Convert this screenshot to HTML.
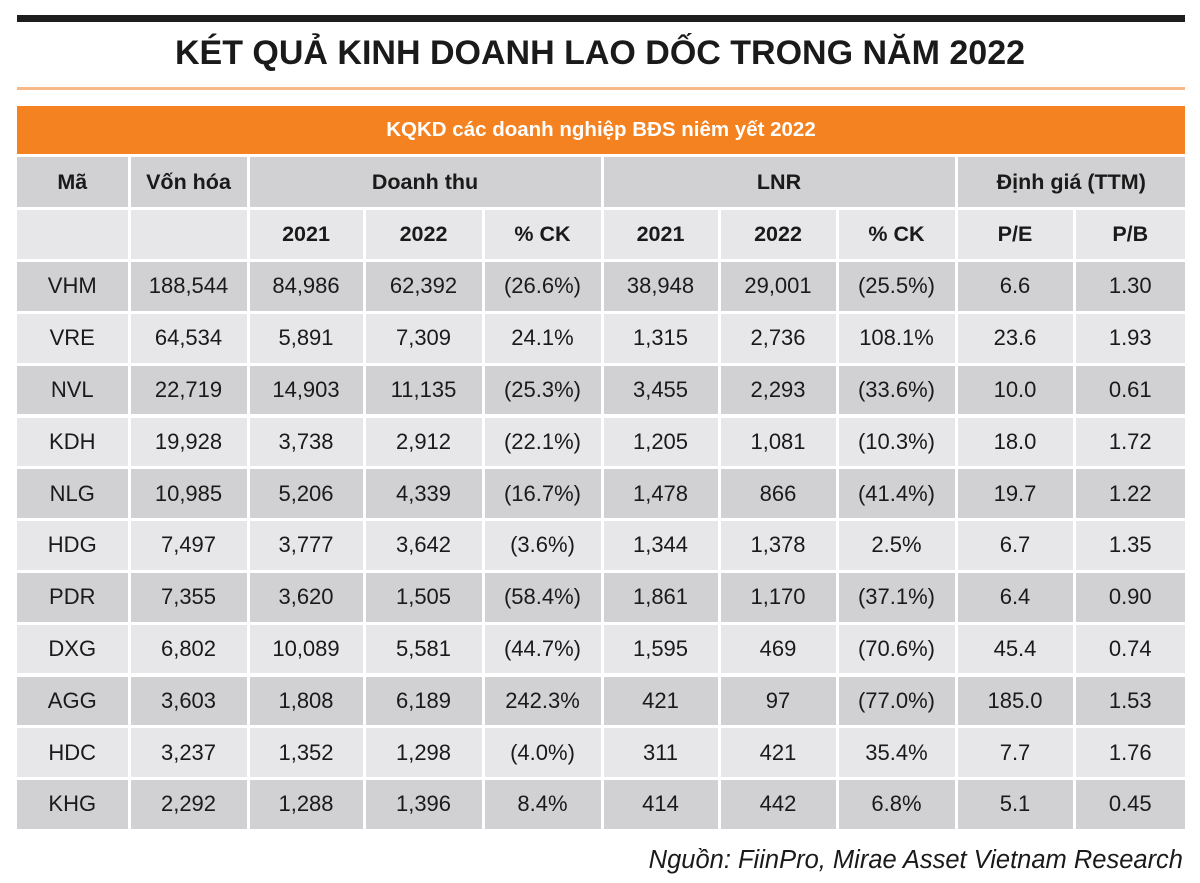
<!DOCTYPE html>
<html><head><meta charset="utf-8"><style>
body{margin:0;width:1200px;height:883px;background:#fff;position:relative;overflow:hidden;font-family:"Liberation Sans",sans-serif;color:#1a1a1a}
.a{position:absolute;box-sizing:border-box;display:flex;align-items:center;justify-content:center}
</style></head><body>
<div class="a" style="left:17px;top:15px;width:1168px;height:7px;background:#1e1e1e"></div>
<div class="a" style="left:0;top:30px;width:1200px;height:46px;font-size:34px;font-weight:bold;color:#1a1a1a">KÉT QUẢ KINH DOANH LAO DỐC TRONG NĂM 2022</div>
<div class="a" style="left:17px;top:87px;width:1168px;height:3px;background:#f6b98a"></div>
<div class="a" style="left:17px;top:106px;width:1168px;height:48px;background:#f58220;color:#fff;font-size:20.5px;font-weight:bold">KQKD các doanh nghiệp BĐS niêm yết 2022</div>
<div id="tbl"></div>
<div class="a" style="right:17px;top:842px;height:36px;font-size:25.5px;font-style:italic;justify-content:flex-end">Nguồn: FiinPro, Mirae Asset Vietnam Research</div>
<script>
const tickers=["VHM","VRE","NVL","KDH","NLG","HDG","PDR","DXG","AGG","HDC","KHG"];
const vonHoa=["188,544","64,534","22,719","19,928","10,985","7,497","7,355","6,802","3,603","3,237","2,292"];
const dt2021=["84,986","5,891","14,903","3,738","5,206","3,777","3,620","10,089","1,808","1,352","1,288"];
const dt2022=["62,392","7,309","11,135","2,912","4,339","3,642","1,505","5,581","6,189","1,298","1,396"];
const dtCK=["(26.6%)","24.1%","(25.3%)","(22.1%)","(16.7%)","(3.6%)","(58.4%)","(44.7%)","242.3%","(4.0%)","8.4%"];
const lnr2021=["38,948","1,315","3,455","1,205","1,478","1,344","1,861","1,595","421","311","414"];
const lnr2022=["29,001","2,736","2,293","1,081","866","1,378","1,170","469","97","421","442"];
const lnrCK=["(25.5%)","108.1%","(33.6%)","(10.3%)","(41.4%)","2.5%","(37.1%)","(70.6%)","(77.0%)","35.4%","6.8%"];
const pe=["6.6","23.6","10.0","18.0","19.7","6.7","6.4","45.4","185.0","7.7","5.1"];
const pb=["1.30","1.93","0.61","1.72","1.22","1.35","0.90","0.74","1.53","1.76","0.45"];
const cols=[17,129,248,364,483,602,719,837,956,1074,1185];
const top0=157,rh=51.8,gap=3;
const dark="#d1d1d3",light="#e7e7e9";
const t=document.getElementById('tbl');
function cell(c0,c1,r,txt,bg,bold,name){
  const d=document.createElement('div');
  d.className='a';
  const x=cols[c0]+(c0?gap/2:0), x2=cols[c1]-(c1<10?gap/2:0);
  const y=top0+r*rh+(r?gap/2:0), y2=top0+(r+1)*rh-gap/2;
  d.style.cssText=`left:${x}px;top:${y}px;width:${x2-x}px;height:${y2-y}px;background:${bg};font-size:${bold?21.5:22}px;${bold?'font-weight:bold;':''}`;
  d.textContent=txt;
  
  
  t.appendChild(d);
}
cell(0,1,0,"Mã",dark,1,'header-ma');
cell(1,2,0,"Vốn hóa",dark,1,'header-von-hoa');
cell(2,5,0,"Doanh thu",dark,1,'header-doanh-thu');
cell(5,8,0,"LNR",dark,1,'header-lnr');
cell(8,10,0,"Định giá (TTM)",dark,1,'header-dinh-gia');
const sub=["","","2021","2022","% CK","2021","2022","% CK","P/E","P/B"];
sub.forEach((s,i)=>cell(i,i+1,1,s,light,1,'subheader-cell'));
tickers.forEach((tk,i)=>{
  const bg=i%2?light:dark;
  const vals=[tk,vonHoa[i],dt2021[i],dt2022[i],dtCK[i],lnr2021[i],lnr2022[i],lnrCK[i],pe[i],pb[i]];
  vals.forEach((v,j)=>cell(j,j+1,i+2,v,bg,0,'data-cell'));
});
</script>
</body></html>
